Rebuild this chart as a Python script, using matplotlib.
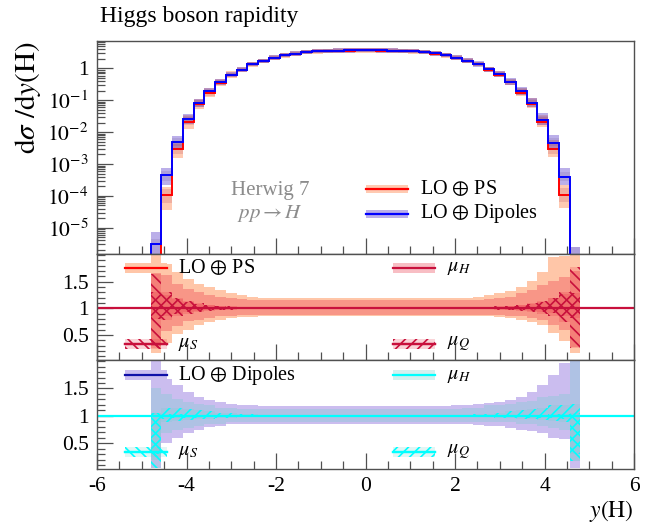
import numpy as np
import matplotlib
matplotlib.use("Agg")
import matplotlib.pyplot as plt
from matplotlib.patches import Rectangle
from matplotlib.lines import Line2D
from matplotlib.ticker import MultipleLocator, FixedLocator, FuncFormatter, LogLocator, NullFormatter

plt.rcParams['font.family'] = 'serif'
plt.rcParams['font.serif'] = ['Liberation Serif', 'DejaVu Serif']
plt.rcParams['mathtext.fontset'] = 'stix'
plt.rcParams['hatch.linewidth'] = 1.2

# ---------------- data ----------------
bin_lo, bin_hi, n_bins = -4.8, 4.8, 40

# main panel: dsigma/dy
dipoles = [3.0e-6, 4.4e-4, 4.9e-3, 0.0254, 0.0843, 0.195, 0.382, 0.648, 0.93, 1.36,
           1.73, 2.20, 2.60, 2.94, 3.31, 3.45, 3.56, 3.63, 3.68, 3.70,
           3.70, 3.68, 3.64, 3.57, 3.46, 3.32, 2.96, 2.62, 2.21, 1.74,
           1.37, 0.935, 0.652, 0.388, 0.197, 0.0849, 0.0248, 0.0047, 3.9e-4, 1.0e-6]
ps = [5.0e-7, 1.05e-4, 3.0e-3, 0.0215, 0.0766, 0.173, 0.36, 0.625, 0.91, 1.34,
      1.71, 2.18, 2.58, 2.93, 3.30, 3.44, 3.55, 3.62, 3.67, 3.69,
      3.69, 3.67, 3.63, 3.56, 3.45, 3.31, 2.95, 2.60, 2.19, 1.72,
      1.35, 0.92, 0.63, 0.365, 0.176, 0.0766, 0.0212, 0.0030, 1.1e-4, 5.0e-7]

# ratio panel 1 (LO + PS)
ps_tot_hi = [2.5, 1.83, 1.68, 1.56, 1.46, 1.40, 1.34, 1.29, 1.25, 1.22,
             1.20, 1.19, 1.19, 1.19, 1.19, 1.19, 1.19, 1.19, 1.19, 1.19,
             1.19, 1.19, 1.19, 1.19, 1.19, 1.19, 1.19, 1.19, 1.20, 1.20,
             1.22, 1.25, 1.28, 1.32, 1.40, 1.52, 1.68, 1.96, 1.99, 2.5]
ps_tot_lo = [0.17, 0.35, 0.51, 0.60, 0.69, 0.75, 0.78, 0.81, 0.83, 0.84,
             0.85, 0.85, 0.85, 0.85, 0.85, 0.85, 0.85, 0.85, 0.85, 0.85,
             0.85, 0.85, 0.85, 0.85, 0.85, 0.85, 0.85, 0.85, 0.85, 0.85,
             0.86, 0.85, 0.83, 0.81, 0.78, 0.75, 0.69, 0.54, 0.38, 0.17]
ps_muH_hi = [1.70, 1.62, 1.46, 1.37, 1.31, 1.25, 1.22, 1.19, 1.17, 1.16,
             1.16, 1.16, 1.16, 1.16, 1.16, 1.16, 1.16, 1.16, 1.16, 1.16,
             1.16, 1.16, 1.16, 1.16, 1.16, 1.16, 1.16, 1.16, 1.16, 1.16,
             1.16, 1.17, 1.19, 1.22, 1.28, 1.34, 1.43, 1.52, 1.59, 1.70]
ps_muH_lo = [0.30, 0.57, 0.67, 0.76, 0.78, 0.81, 0.85, 0.86, 0.87, 0.87,
             0.87, 0.87, 0.87, 0.87, 0.87, 0.87, 0.87, 0.87, 0.87, 0.87,
             0.87, 0.87, 0.87, 0.87, 0.87, 0.87, 0.87, 0.87, 0.87, 0.87,
             0.87, 0.87, 0.87, 0.86, 0.85, 0.81, 0.78, 0.69, 0.60, 0.28]
ps_muS_hi = [1.65, 1.30, 1.20, 1.14, 1.10, 1.07, 1.05, 1.04, 1.03, 1.03,
             1.02, 1.02, 1.02, 1.02, 1.02, 1.02, 1.02, 1.02, 1.02, 1.02,
             1.02, 1.02, 1.02, 1.02, 1.02, 1.02, 1.02, 1.02, 1.02, 1.02,
             1.03, 1.03, 1.04, 1.05, 1.07, 1.10, 1.14, 1.20, 1.30, 1.77]
ps_muS_lo = [0.25, 0.78, 0.86, 0.90, 0.93, 0.95, 0.96, 0.97, 0.98, 0.98,
             0.985, 0.985, 0.985, 0.985, 0.985, 0.985, 0.985, 0.985, 0.985, 0.985,
             0.985, 0.985, 0.985, 0.985, 0.985, 0.985, 0.985, 0.985, 0.985, 0.985,
             0.98, 0.98, 0.97, 0.96, 0.95, 0.93, 0.90, 0.86, 0.74, 0.26]
ps_muQ_hi = [1.30, 1.25, 1.18, 1.12, 1.08, 1.06, 1.04, 1.03, 1.02, 1.02,
             1.015, 1.015, 1.015, 1.015, 1.015, 1.015, 1.015, 1.015, 1.015, 1.015,
             1.015, 1.015, 1.015, 1.015, 1.015, 1.015, 1.015, 1.015, 1.015, 1.015,
             1.02, 1.02, 1.03, 1.04, 1.06, 1.08, 1.12, 1.20, 1.26, 1.28]
ps_muQ_lo = [0.80, 0.85, 0.90, 0.93, 0.95, 0.96, 0.97, 0.98, 0.985, 0.985,
             0.99, 0.99, 0.99, 0.99, 0.99, 0.99, 0.99, 0.99, 0.99, 0.99,
             0.99, 0.99, 0.99, 0.99, 0.99, 0.99, 0.99, 0.99, 0.99, 0.99,
             0.985, 0.985, 0.98, 0.97, 0.96, 0.95, 0.93, 0.92, 0.86, 0.81]

# ratio panel 2 (LO + Dipoles)
dp_tot_hi = [2.5, 1.68, 1.56, 1.43, 1.34, 1.29, 1.25, 1.22, 1.20, 1.19,
             1.18, 1.18, 1.18, 1.18, 1.18, 1.18, 1.18, 1.18, 1.18, 1.18,
             1.18, 1.18, 1.18, 1.18, 1.18, 1.18, 1.18, 1.18, 1.19, 1.20,
             1.22, 1.23, 1.25, 1.29, 1.35, 1.43, 1.56, 1.74, 1.96, 2.5]
dp_tot_lo = [0.04, 0.51, 0.60, 0.69, 0.75, 0.80, 0.81, 0.85, 0.85, 0.86,
             0.86, 0.86, 0.86, 0.86, 0.86, 0.86, 0.86, 0.86, 0.86, 0.86,
             0.86, 0.86, 0.86, 0.86, 0.86, 0.86, 0.86, 0.86, 0.86, 0.85,
             0.83, 0.81, 0.81, 0.78, 0.75, 0.72, 0.69, 0.60, 0.57, 0.05]
dp_muH_hi = [1.50, 1.40, 1.31, 1.25, 1.22, 1.19, 1.15, 1.14, 1.13, 1.13,
             1.13, 1.13, 1.13, 1.13, 1.13, 1.13, 1.13, 1.13, 1.13, 1.13,
             1.13, 1.13, 1.13, 1.13, 1.13, 1.13, 1.13, 1.13, 1.13, 1.14,
             1.15, 1.19, 1.20, 1.22, 1.25, 1.28, 1.34, 1.37, 1.40, 2.5]
dp_muH_lo = [0.20, 0.69, 0.75, 0.78, 0.81, 0.85, 0.86, 0.88, 0.88, 0.88,
             0.88, 0.88, 0.88, 0.88, 0.88, 0.88, 0.88, 0.88, 0.88, 0.88,
             0.88, 0.88, 0.88, 0.88, 0.88, 0.88, 0.88, 0.88, 0.88, 0.88,
             0.88, 0.88, 0.88, 0.88, 0.86, 0.85, 0.81, 0.78, 0.75, 0.17]
dp_muS_hi = [1.05, 1.03, 1.03, 1.02, 1.02, 1.02, 1.02, 1.02, 1.02, 1.02,
             1.015, 1.015, 1.015, 1.015, 1.015, 1.015, 1.015, 1.015, 1.015, 1.015,
             1.015, 1.015, 1.015, 1.015, 1.015, 1.015, 1.015, 1.015, 1.015, 1.015,
             1.02, 1.02, 1.02, 1.02, 1.02, 1.02, 1.02, 1.03, 1.03, 1.05]
dp_muS_lo = [0.05, 0.95, 0.96, 0.97, 0.97, 0.98, 0.98, 0.98, 0.98, 0.985,
             0.985, 0.985, 0.985, 0.985, 0.985, 0.985, 0.985, 0.985, 0.985, 0.985,
             0.985, 0.985, 0.985, 0.985, 0.985, 0.985, 0.985, 0.985, 0.985, 0.985,
             0.985, 0.98, 0.98, 0.98, 0.98, 0.97, 0.97, 0.96, 0.95, 0.17]
dp_muQ_hi = [1.05, 1.15, 1.14, 1.12, 1.10, 1.08, 1.06, 1.05, 1.04, 1.03,
             1.02, 1.02, 1.02, 1.02, 1.02, 1.02, 1.02, 1.02, 1.02, 1.02,
             1.02, 1.02, 1.02, 1.02, 1.02, 1.02, 1.02, 1.02, 1.02, 1.02,
             1.03, 1.04, 1.06, 1.08, 1.10, 1.12, 1.14, 1.20, 1.19, 1.22]
dp_muQ_lo = [0.30, 0.88, 0.90, 0.92, 0.94, 0.95, 0.96, 0.97, 0.98, 0.98,
             0.985, 0.985, 0.985, 0.985, 0.985, 0.985, 0.985, 0.985, 0.985, 0.985,
             0.985, 0.985, 0.985, 0.985, 0.985, 0.985, 0.985, 0.985, 0.985, 0.985,
             0.98, 0.98, 0.97, 0.96, 0.95, 0.94, 0.92, 0.91, 0.88, 0.30]

xticks = [-6, -4, -2, 0, 2, 4, 6]
title = "Higgs boson rapidity"
label_ps = r"LO $\oplus$ PS"
label_dp = r"LO $\oplus$ Dipoles"

# ---------------- styling ----------------
edges = np.linspace(bin_lo, bin_hi, n_bins + 1)
A = lambda v: np.asarray(v, dtype=float)

C_RED = '#ff0000'
C_BLUE = '#0000ff'
C_PEACH = '#ffc6a8'
C_LAV = '#cbbdef'
C_CRIM = '#c8103c'
C_CYAN = '#00ffff'
C_NAVY = '#1010a8'
FRAME = '#505050'
TS = 15.5  # tick label size
H_BS = '\\\\\\'
H_FS = '///'

fig = plt.figure(figsize=(6.49, 5.30), dpi=100)
L, W = 97 / 649, 537 / 649
ax0 = fig.add_axes([L, 1 - 254 / 530, W, 213 / 530])
ax1 = fig.add_axes([L, 1 - 360 / 530, W, 106 / 530], sharex=ax0)
ax2 = fig.add_axes([L, 1 - 469 / 530, W, 109 / 530], sharex=ax0)


def band(ax, lo, hi, **kw):
    lo = A(lo)
    hi = A(hi)
    ax.fill_between(edges, np.append(lo, lo[-1]), np.append(hi, hi[-1]),
                    step='post', **kw)


# ---- main panel ----
ax0.set_yscale('log')
band(ax0, A(ps) * A(ps_tot_lo), A(ps) * A(ps_tot_hi), facecolor='#ff9f73', alpha=0.55, lw=0)
band(ax0, A(dipoles) * A(dp_tot_lo), A(dipoles) * A(dp_tot_hi), facecolor='#6a4fd0', alpha=0.45, lw=0)
band(ax0, A(ps) * A(ps_muH_lo), A(ps) * A(ps_muH_hi), facecolor='#b0304a', alpha=0.18, lw=0)
band(ax0, A(dipoles) * A(dp_muH_lo), A(dipoles) * A(dp_muH_hi), facecolor='#503070', alpha=0.12, lw=0)
ax0.stairs(A(ps), edges, baseline=1e-12, color=C_RED, lw=1.4)
ax0.stairs(A(dipoles), edges, baseline=1e-12, color=C_BLUE, lw=1.4)
ax0.set_ylim(1.5e-6, 7.3)


# ---- ratio panels ----
def ratio_panel(ax, tot, muH, muS, muQ, c_tot, c_band, c_line, hatch_col):
    band(ax, *tot, facecolor=c_tot, lw=0)
    band(ax, *muH, facecolor=c_band, alpha=0.30, lw=0)
    band(ax, *muS, facecolor=c_band, alpha=0.20, lw=0)
    band(ax, *muQ, facecolor=c_band, alpha=0.20, lw=0)
    band(ax, *muS, facecolor='none', edgecolor=hatch_col, hatch=H_BS, lw=0)
    band(ax, *muQ, facecolor='none', edgecolor=hatch_col, hatch=H_FS, lw=0)
    ax.axhline(1.0, color=c_line, lw=1.6)
    ax.set_ylim(0.03, 2.02)


ratio_panel(ax1, (ps_tot_lo, ps_tot_hi), (ps_muH_lo, ps_muH_hi), (ps_muS_lo, ps_muS_hi),
            (ps_muQ_lo, ps_muQ_hi), C_PEACH, '#e8283c', C_CRIM, C_CRIM)
ratio_panel(ax2, (dp_tot_lo, dp_tot_hi), (dp_muH_lo, dp_muH_hi), (dp_muS_lo, dp_muS_hi),
            (dp_muQ_lo, dp_muQ_hi), C_LAV, '#6fcfcb', C_CYAN, C_CYAN)

# ---- axes cosmetics ----
for ax in (ax0, ax1, ax2):
    ax.set_xlim(-6, 6)
    for s in ax.spines.values():
        s.set_color(FRAME)
        s.set_linewidth(1.0)
    ax.tick_params(which='both', direction='in', top=False, right=False, colors=FRAME,
                   labelcolor='black', labelsize=TS)
    ax.tick_params(which='major', length=11.5, width=0.9, pad=6)
    ax.tick_params(which='minor', length=5.5, width=0.9)
    ax.xaxis.set_major_locator(FixedLocator(xticks))
    ax.xaxis.set_minor_locator(MultipleLocator(0.5))

ax0.yaxis.set_major_locator(LogLocator(base=10, numticks=20))
ax0.yaxis.set_minor_locator(LogLocator(base=10, subs=np.arange(2, 10), numticks=20))
ax0.yaxis.set_minor_formatter(NullFormatter())
ax0.yaxis.set_major_formatter(FuncFormatter(
    lambda v, p: '1' if abs(np.log10(v)) < 1e-9 else r'$10^{%d}$' % round(np.log10(v))))

for ax in (ax1, ax2):
    ax.yaxis.set_major_locator(FixedLocator([0.5, 1.0, 1.5]))
    ax.yaxis.set_minor_locator(MultipleLocator(0.1))
    ax.yaxis.set_major_formatter(FuncFormatter(lambda v, p: '%g' % v))

plt.setp(ax0.get_xticklabels(), visible=False)
plt.setp(ax1.get_xticklabels(), visible=False)
ax2.xaxis.set_major_formatter(FuncFormatter(lambda v, p: '%d' % v))

ax0.set_ylabel(r'$\mathrm{d}\sigma\ /\mathrm{d}y(\mathrm{H})$', fontsize=21, loc='top', labelpad=3)
ax2.set_xlabel(r'$y(\mathrm{H})$', fontsize=17, loc='right', labelpad=1)
fig.text(100 / 649, 1 - 6 / 530, title, fontsize=17, va='top', ha='left')

# annotation text in main panel
ax0.text(0.322, 0.30, 'Herwig 7', transform=ax0.transAxes, color='#8c8c8c',
         fontsize=15, ha='center', va='center')
ax0.text(0.322, 0.188, r'$pp \rightarrow H$', transform=ax0.transAxes, color='#8c8c8c',
         fontsize=15, ha='center', va='center')


def handle(ax, x0, y, w, h, face, line, hatch=None, fa=1.0, hcol=None, lw=1.6):
    r = Rectangle((x0, y - h / 2), w, h, transform=ax.transAxes, facecolor=face,
                  alpha=fa, edgecolor=hcol if hcol else 'none', hatch=hatch, lw=0, clip_on=False)
    ax.add_patch(r)
    ax.add_line(Line2D([x0, x0 + w], [y, y], transform=ax.transAxes, color=line, lw=lw,
                       clip_on=False))


LS = 14.5
# main legend
handle(ax0, 0.501, 0.305, 0.078, 0.035, '#ff9f73', C_RED, fa=0.55)
handle(ax0, 0.501, 0.188, 0.078, 0.035, '#6a4fd0', C_BLUE, fa=0.45)
ax0.text(0.601, 0.305, label_ps, transform=ax0.transAxes, fontsize=LS, va='center')
ax0.text(0.601, 0.188, label_dp, transform=ax0.transAxes, fontsize=LS, va='center')

# ratio legends
for ax, ytop, ybot, tot_face, band_face, lc, tline, tlabel in (
        (ax1, 0.868, 0.151, C_PEACH, '#e8283c', C_CRIM, C_RED, label_ps),
        (ax2, 0.862, 0.156, C_LAV, '#6fcfcb', C_CYAN, C_NAVY, label_dp)):
    handle(ax, 0.052, ytop, 0.078, 0.09, tot_face, tline)
    ax.text(0.151, ytop, tlabel, transform=ax.transAxes, fontsize=LS, va='center')
    handle(ax, 0.551, ytop, 0.078, 0.09, band_face, lc, fa=0.30)
    ax.text(0.652, ytop, r'$\mu_H$', transform=ax.transAxes, fontsize=LS, va='center')
    handle(ax, 0.052, ybot, 0.078, 0.09, band_face, lc, fa=0.20)
    handle(ax, 0.052, ybot, 0.078, 0.09, 'none', lc, hatch=H_BS, hcol=lc)
    ax.text(0.151, ybot, r'$\mu_S$', transform=ax.transAxes, fontsize=LS, va='center')
    handle(ax, 0.551, ybot, 0.078, 0.09, band_face, lc, fa=0.20)
    handle(ax, 0.551, ybot, 0.078, 0.09, 'none', lc, hatch=H_FS, hcol=lc)
    ax.text(0.652, ybot, r'$\mu_Q$', transform=ax.transAxes, fontsize=LS, va='center')

fig.savefig('out.png', dpi=100)
